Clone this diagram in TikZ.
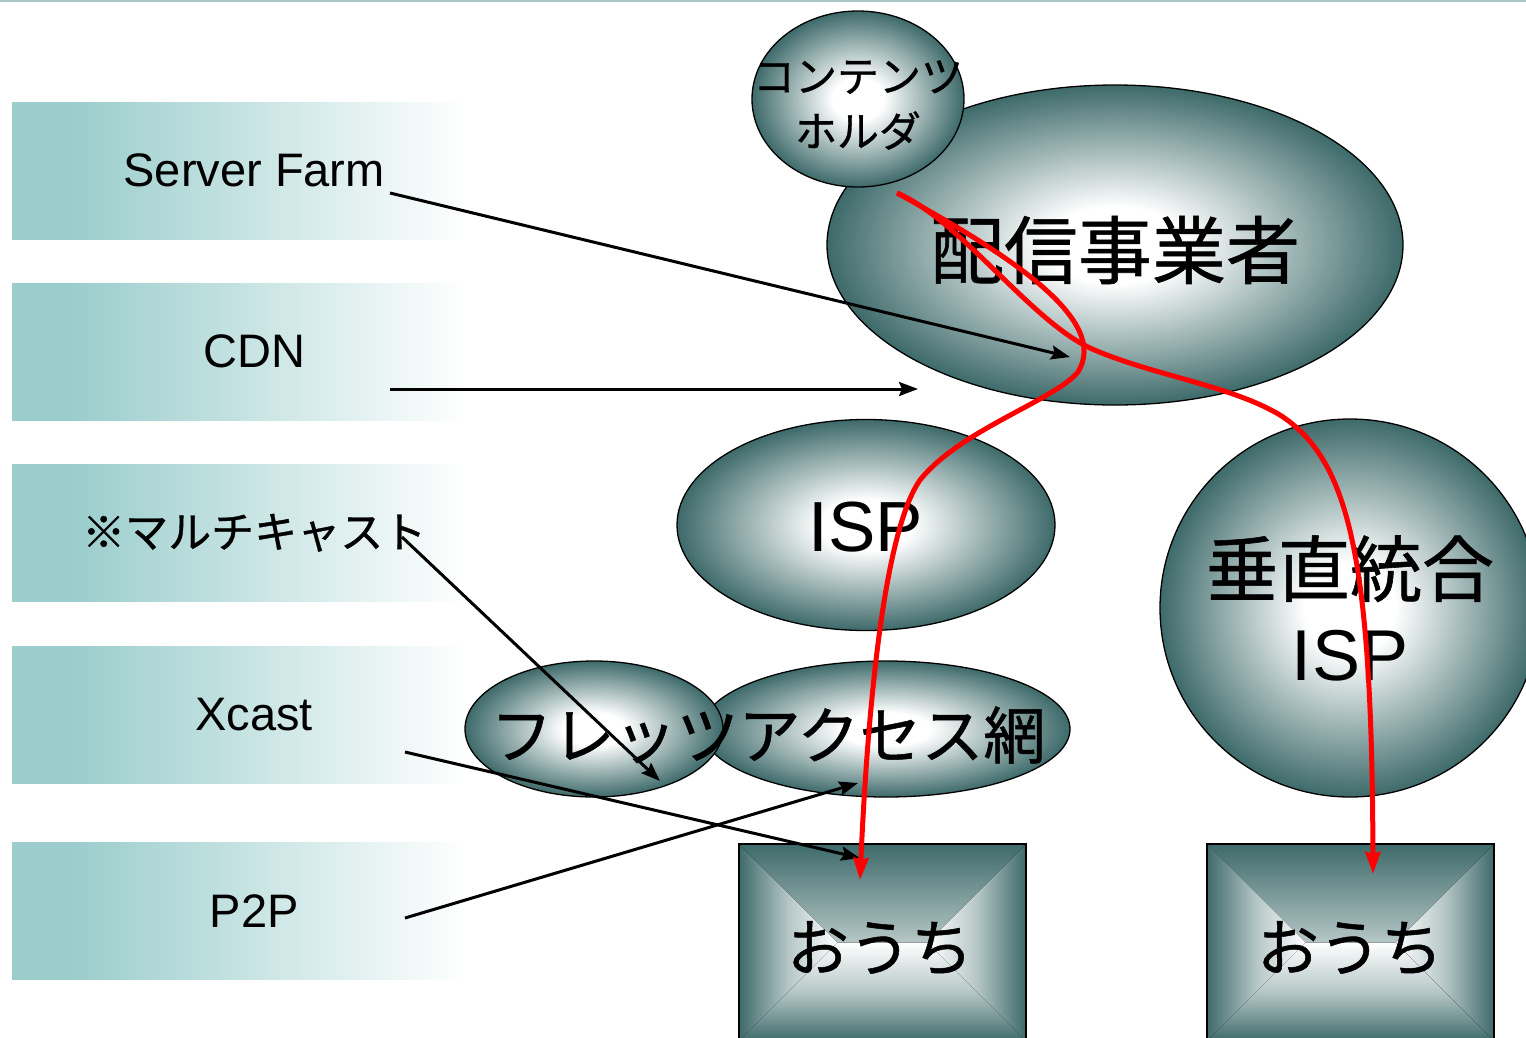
\documentclass[tikz,border=0pt]{standalone}
\usepackage{fontspec}
\setmainfont{Liberation Sans}
\newfontfamily\jp[FakeBold=0.8]{Noto Sans CJK JP}
\usetikzlibrary{arrows.meta,shapes.geometric}
\definecolor{tealdk}{RGB}{62,106,106}
\definecolor{bandc}{RGB}{154,205,204}
\definecolor{topline}{RGB}{168,198,196}
\definecolor{redline}{RGB}{255,0,0}
\pgfdeclareradialshading{ball}{\pgfpoint{0bp}{0bp}}{color(0bp)=(white); color(6bp)=(white); color(25bp)=(tealdk); color(50bp)=(tealdk)}
\pgfdeclarehorizontalshading{band}{100bp}{color(0bp)=(bandc); color(25bp)=(bandc); color(31bp)=(bandc); color(72bp)=(white); color(100bp)=(white)}
\tikzset{
  blob/.style={ellipse, draw=black, line width=1.3pt, shade, shading=ball, inner sep=0pt},
  bandbox/.style={rectangle, shade, shading=band, draw=none, minimum width=484pt, minimum height=137pt, inner sep=0pt, anchor=north west, font=\fontsize{47pt}{56pt}\selectfont},
  homebox/.style={rectangle, draw=black, line width=2pt, minimum width=287pt, minimum height=197pt, inner sep=0pt, anchor=north west,
    path picture={
      \fill[top color=tealdk, bottom color=white, middle color=tealdk!38!white]
        (path picture bounding box.north west) -- (path picture bounding box.north east)
        -- ([xshift=-98.5pt]path picture bounding box.east) -- ([xshift=98.5pt]path picture bounding box.west) -- cycle;
      \fill[bottom color=tealdk, top color=white, middle color=tealdk!38!white]
        (path picture bounding box.south west) -- (path picture bounding box.south east)
        -- ([xshift=-98.5pt]path picture bounding box.east) -- ([xshift=98.5pt]path picture bounding box.west) -- cycle;
      \fill[left color=tealdk, right color=white, middle color=tealdk!38!white]
        (path picture bounding box.north west) -- ([xshift=98.5pt]path picture bounding box.west)
        -- (path picture bounding box.south west) -- cycle;
      \fill[right color=tealdk, left color=white, middle color=tealdk!38!white]
        (path picture bounding box.north east) -- ([xshift=-98.5pt]path picture bounding box.east)
        -- (path picture bounding box.south east) -- cycle;
    }},
  lbl/.style={inner sep=0pt, align=center},
  blk/.style={draw=black, line width=3pt, -{Stealth[length=19pt,width=14pt,inset=3pt]}},
  redarr/.style={draw=redline, line width=5pt, -{Stealth[length=22pt,width=15pt,inset=2pt]}}
}
\begin{document}
\begin{tikzpicture}[x=1pt,y=-1pt]
\useasboundingbox (0,0) rectangle (1526,1037);
\fill[white] (0,0) rectangle (1526,1037);
\draw[topline, line width=2.5pt] (0,0.5) -- (1526,0.5);

% left bands
\node[bandbox] (sf) at (12,102) {Server Farm};
\node[bandbox] (cdn) at (12,283) {CDN};
\node[bandbox] (mc) at (12,464) {\jp\fontsize{43pt}{50pt}\selectfont ※マルチキャスト};
\node[bandbox] (xc) at (12,646) {Xcast};
\node[bandbox] (p2p) at (12,842) {P2P};

% shapes
\node[blob, minimum width=576pt, minimum height=320pt] (haishin) at (1115,245) {};
\node[blob, minimum width=212pt, minimum height=176pt] (holder) at (858,99) {};
\node[blob, minimum width=378pt, minimum height=211pt] (isp) at (866,525) {};
\node[blob, minimum width=380pt, minimum height=378pt] (visp) at (1350,608) {};
\node[blob, minimum width=368pt, minimum height=136pt] (access) at (886,729) {};
\node[blob, minimum width=258pt, minimum height=136pt] (flets) at (594,729) {};
\node[homebox] (home1) at (738,843) {};
\node[homebox] (home2) at (1206,843) {};

% texts
\node[lbl, font=\jp\fontsize{74pt}{84pt}\selectfont] (haishinT) at (1115,250) {配信事業者};
\node[lbl, font=\jp\fontsize{42pt}{55pt}\selectfont] (holderT) at (858,105) {コンテンツ\\ホルダ};
\node[lbl, font=\fontsize{71pt}{80pt}\selectfont] (ispT) at (866,527) {ISP};
\node[lbl, font=\fontsize{72pt}{84pt}\selectfont] (vispT) at (1350,608) {{\jp 垂直統合}\\ISP};
\node[lbl, font=\jp\fontsize{62pt}{70pt}\selectfont] (accessT) at (768,735) {フレッツアクセス網};
\node[lbl, font=\jp\fontsize{62pt}{70pt}\selectfont] (home1T) at (880,948) {おうち};
\node[lbl, font=\jp\fontsize{62pt}{70pt}\selectfont] (home2T) at (1350,948) {おうち};

% black arrows
\coordinate (sfS) at (390,193);   \coordinate (sfE) at (1070,357);
\coordinate (cdnS) at (390,389);  \coordinate (cdnE) at (918,389);
\coordinate (mcS) at (402,537);   \coordinate (mcE) at (660,781);
\coordinate (xcS) at (405,752);   \coordinate (xcE) at (860,858);
\coordinate (p2pS) at (405,918);  \coordinate (p2pE) at (858,783);
\draw[blk] (sfS) -- (sfE);
\draw[blk] (cdnS) -- (cdnE);
\draw[blk] (mcS) -- (mcE);
\draw[blk] (xcS) -- (xcE);
\draw[blk] (p2pS) -- (p2pE);

% red curves
\coordinate (src) at (897,193);
\coordinate (dst1) at (860,880);
\coordinate (dst2) at (1373,874);
\draw[redarr] (src) .. controls (1010,255) and (1110,320) .. (1078,372)
  .. controls (1055,400) and (960,430) .. (920,480)
  .. controls (885,530) and (868,700) .. (dst1);
\draw[redarr] (src) .. controls (960,220) and (1030,320) .. (1090,348)
  .. controls (1150,375) and (1230,385) .. (1280,415)
  .. controls (1350,460) and (1372,560) .. (dst2);
\end{tikzpicture}
\end{document}
